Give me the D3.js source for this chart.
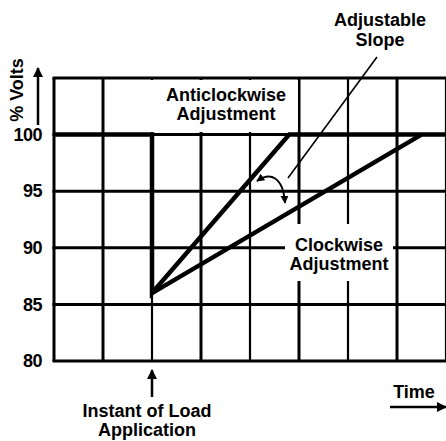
<!DOCTYPE html>
<html>
<head>
<meta charset="utf-8">
<script src="https://cdn.jsdelivr.net/npm/d3@7"></script>
<style>
  body { margin: 0; background: #fff; }
  text { font-family: "Liberation Sans", Arial, sans-serif; font-weight: bold; fill: #000; }
</style>
</head>
<body>
<div id="chart"></div>
<script>
// values
const yTicks = [80, 85, 90, 95, 100];
const timeGrid = [0, 1, 2, 3, 4, 5, 6, 7, 8];
const loadTime = 2;
// anticlockwise: steady 100%, dip at load, fast recovery
const anticlockwise = [
  { t: 0, v: 100 }, { t: 2, v: 100 }, { t: 2, v: 86 }, { t: 4.8, v: 100 }, { t: 8, v: 100 }
];
// clockwise: slower recovery from the same dip
const clockwise = [
  { t: 2, v: 86 }, { t: 7.5, v: 100 }
];

const width = 446, height = 441;
const svg = d3.select('#chart').append('svg')
  .attr('width', width)
  .attr('height', height);

const defs = svg.append('defs');
defs.append('marker')
  .attr('id', 'head')
  .attr('viewBox', '0 0 10 10')
  .attr('refX', 9).attr('refY', 5)
  .attr('markerWidth', 4).attr('markerHeight', 4)
  .attr('markerUnits', 'strokeWidth')
  .attr('orient', 'auto-start-reverse')
  .append('path').attr('d', 'M0,0L10,5L0,10z').attr('fill', '#000');

const x = d3.scaleLinear().domain([0, 8]).range([54, 446]);
const y = d3.scaleLinear().domain([80, 105]).range([361, 78]);

// grid
const grid = svg.append('g');
grid.selectAll('line.v')
  .data(timeGrid)
  .enter().append('line')
  .attr('x1', d => x(d)).attr('x2', d => x(d))
  .attr('y1', y(105)).attr('y2', y(80))
  .attr('stroke', '#000')
  .attr('stroke-width', d => (d === 0 || d % 2 === 1) ? 3 : 2.2);

grid.selectAll('line.h')
  .data(yTicks.concat([105]))
  .enter().append('line')
  .attr('x1', x(0) - 1.5).attr('x2', x(8))
  .attr('y1', d => y(d)).attr('y2', d => y(d))
  .attr('stroke', '#000')
  .attr('stroke-width', 3);

// white boxes behind labels
svg.append('rect').attr('x', 105).attr('y', 80).attr('width', 193).attr('height', 52).attr('fill', '#fff');
svg.append('rect').attr('x', 285).attr('y', 224).attr('width', 108).attr('height', 57).attr('fill', '#fff');

// response curves
const line = d3.line().x(d => x(d.t)).y(d => y(d.v));
svg.append('path')
  .datum(anticlockwise)
  .attr('d', line)
  .attr('fill', 'none')
  .attr('stroke', '#000')
  .attr('stroke-width', 4.5)
  .attr('stroke-linejoin', 'miter');
svg.append('path')
  .datum(clockwise)
  .attr('d', line)
  .attr('fill', 'none')
  .attr('stroke', '#000')
  .attr('stroke-width', 4.5);

// y tick labels
const yAxis = svg.append('g')
  .attr('transform', 'translate(42,0)')
  .call(d3.axisLeft(y).tickValues(yTicks).tickSize(0).tickPadding(0));
yAxis.select('.domain').remove();
yAxis.selectAll('text')
  .attr('font-size', 18)
  .attr('font-family', '"Liberation Sans", Arial, sans-serif')
  .attr('font-weight', 'bold')
  .attr('letter-spacing', -0.5);

// % Volts label + arrow
svg.append('text')
  .attr('transform', 'translate(23,90) rotate(-90)')
  .attr('text-anchor', 'middle')
  .attr('font-size', 18)
  .text('% Volts');
svg.append('line')
  .attr('x1', 38).attr('x2', 38).attr('y1', 125).attr('y2', 68)
  .attr('stroke', '#000').attr('stroke-width', 2.5)
  .attr('marker-end', 'url(#head)');

// labels
function label(lines, cx, y0, dy) {
  lines.forEach((s, i) => {
    svg.append('text')
      .attr('x', cx).attr('y', y0 + i * dy)
      .attr('text-anchor', 'middle')
      .attr('font-size', 18)
      .text(s);
  });
}
label(['Anticlockwise', 'Adjustment'], 226, 101, 19);
label(['Clockwise', 'Adjustment'], 339, 251, 19);
label(['Adjustable', 'Slope'], 380, 26, 20);
label(['Instant of Load', 'Application'], 147, 417, 19);
svg.append('text')
  .attr('x', 414).attr('y', 398)
  .attr('text-anchor', 'middle')
  .attr('font-size', 18)
  .text('Time');

// leader from "Adjustable Slope"
svg.append('line')
  .attr('x1', 377).attr('y1', 57).attr('x2', 288).attr('y2', 178)
  .attr('stroke', '#000').attr('stroke-width', 1.6);

// double curved arrow between the slopes
svg.append('path')
  .attr('d', 'M257,181 C270,172 283,176 285,203')
  .attr('fill', 'none')
  .attr('stroke', '#000').attr('stroke-width', 2)
  .attr('marker-start', 'url(#head)')
  .attr('marker-end', 'url(#head)');

// load instant arrow
svg.append('line')
  .attr('x1', x(loadTime)).attr('x2', x(loadTime)).attr('y1', 397).attr('y2', 370)
  .attr('stroke', '#000').attr('stroke-width', 2.5)
  .attr('marker-end', 'url(#head)');

// time arrow
svg.append('line')
  .attr('x1', 390).attr('x2', 446).attr('y1', 407).attr('y2', 407)
  .attr('stroke', '#000').attr('stroke-width', 2.5)
  .attr('marker-end', 'url(#head)');
</script>
</body>
</html>
